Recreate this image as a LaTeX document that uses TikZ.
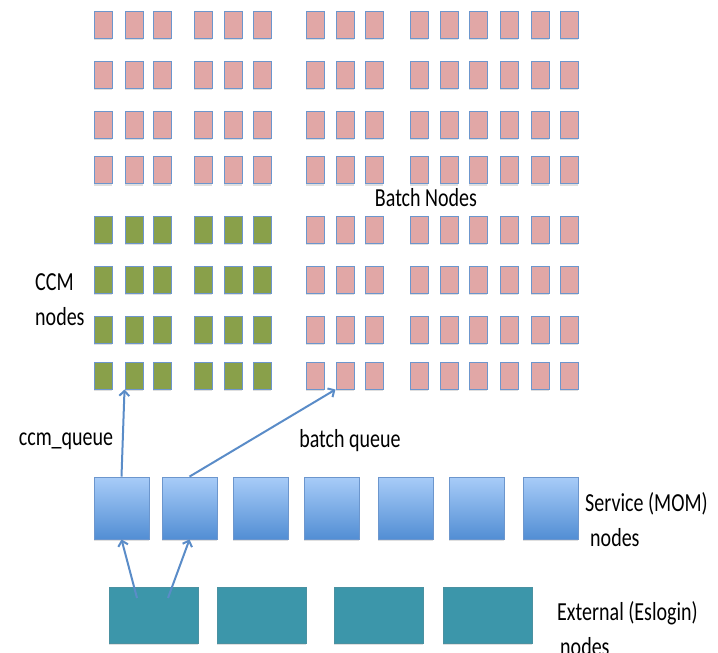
\documentclass[tikz,border=0pt]{standalone}
\usepackage{fontspec}
\setmainfont{Carlito}
\newfontfamily\lblfont[FakeStretch=0.77]{Carlito}
\usepackage{tikz}
\usetikzlibrary{arrows.meta,shadows}
\definecolor{EdgeBlue}{RGB}{108,150,205}
\definecolor{BatchPink}{RGB}{225,167,166}
\definecolor{CcmGreen}{RGB}{137,160,74}
\definecolor{SvcTop}{RGB}{168,204,248}
\definecolor{SvcBot}{RGB}{82,142,212}
\definecolor{ExtTeal}{RGB}{60,150,170}
\definecolor{ArrBlue}{RGB}{90,140,200}

\begin{document}
\begin{tikzpicture}[x=1pt, y=-1pt,
            cell/.style={draw=EdgeBlue, line width=1pt, inner sep=0pt,
                         minimum width=18pt, minimum height=27pt,
                         drop shadow={shadow xshift=0pt, shadow yshift=-2pt, opacity=0.25}},
            batch/.style={cell, fill=BatchPink},
            ccm/.style={cell, fill=CcmGreen},
            svc/.style={draw=EdgeBlue, line width=0.8pt, inner sep=0pt,
                        top color=SvcTop, bottom color=SvcBot,
                        minimum width=55pt, minimum height=62pt,
                        drop shadow={shadow xshift=0pt, shadow yshift=-2pt, opacity=0.25}},
            ext/.style={fill=ExtTeal, draw=ExtTeal!80!gray, line width=0.6pt, inner sep=0pt,
                        minimum width=89pt, minimum height=56pt,
                        drop shadow={shadow xshift=0pt, shadow yshift=-2pt, opacity=0.25}},
            lbl/.style={font=\lblfont\fontsize{26}{35}\selectfont, inner sep=0pt},
            arr/.style={-{Straight Barb[length=5pt, width=10pt]}, line width=2pt, ArrBlue}
        ]
            \useasboundingbox (0,0) rectangle (718,653);

            \foreach \y [count=\r] in {24.5,74.5,124.5,170,229.5,279.5,329.5,375.5} {
                \foreach \x [count=\c] in {103,134,162,203,233,262,315,345,374,419,449,478,509,540,569} {
                    \ifnum\r>4 \ifnum\c<7 \def\kind{ccm}\else\def\kind{batch}\fi\else\def\kind{batch}\fi
                    \node[\kind] (n-\r-\c) at (\x,\y) {};
                }
            }

            \node[svc] (svc1) at (121.5,508) {};
            \node[svc] (svc2) at (189.5,508) {};
            \node[svc] (svc3) at (260.5,508) {};
            \node[svc] (svc4) at (331.5,508) {};
            \node[svc] (svc5) at (405.5,508) {};
            \node[svc] (svc6) at (476.5,508) {};
            \node[svc] (svc7) at (550.5,508) {};

            \node[ext] (ext1) at (153.5,615) {};
            \node[ext] (ext2) at (261.5,615) {};
            \node[ext] (ext3) at (378.5,615) {};
            \node[ext] (ext4) at (487.5,615) {};

            \node[lbl] (batchlbl) at (426,198) {Batch Nodes};
            \node[lbl, align=left, anchor=west] (ccmlbl) at (35,300) {CCM\\nodes};
            \node[lbl] (ccmq) at (66,441) {ccm\_queue};
            \node[lbl] (batchq) at (350,441) {batch queue};
            \node[lbl, align=left, anchor=west] (svclbl) at (585,520) {Service (MOM)\\\hspace{5pt}nodes};
            \node[lbl, align=left, anchor=west] (extlbl) at (557,629) {External (Eslogin)\\\hspace{3pt}nodes};

            \coordinate (src1) at (137,598);
            \coordinate (src2) at (168,598);

            \draw[arr] (svc1.north) -- (n-8-2.south west);
            \draw[arr] (svc2.north) -- (n-8-8.south west);
            \draw[arr] (src1) -- (svc1.south);
            \draw[arr] (src2) -- (svc2.south);

        \end{tikzpicture}
\end{document}
